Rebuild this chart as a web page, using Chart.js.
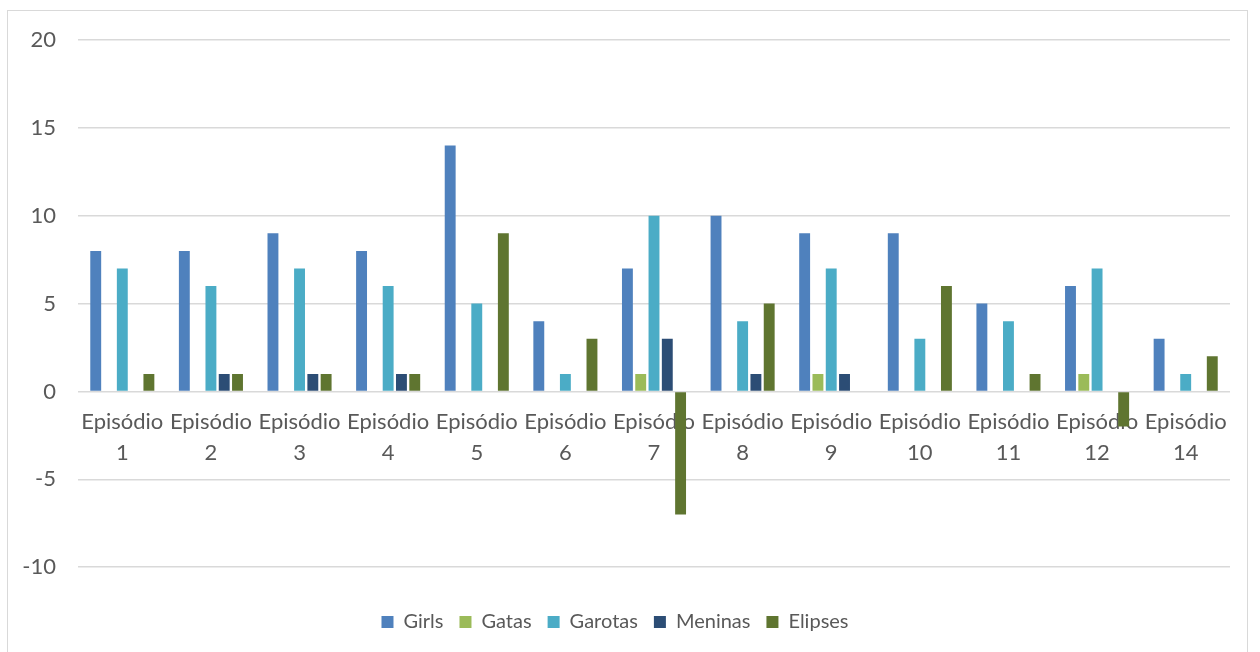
<!DOCTYPE html>
<html>
<head>
<meta charset="utf-8">
<script src="https://cdn.jsdelivr.net/npm/chart.js@4.4.1/dist/chart.umd.min.js"></script>
<style>
  html, body { margin: 0; padding: 0; background: #fff; overflow: hidden; }
  #frame { position: absolute; left: 7px; top: 10px; width: 1241px; height: 700px;
           border: 1.5px solid #d9d9d9; box-sizing: border-box; }
  #c { position: absolute; left: 0; top: 0; }
</style>
</head>
<body>
<div id="frame"></div>
<canvas id="c" width="1260" height="652"></canvas>
<script>
// Episodes on the category axis
const categories = [
  ['Episódio', '1'], ['Episódio', '2'], ['Episódio', '3'], ['Episódio', '4'],
  ['Episódio', '5'], ['Episódio', '6'], ['Episódio', '7'], ['Episódio', '8'],
  ['Episódio', '9'], ['Episódio', '10'], ['Episódio', '11'], ['Episódio', '12'],
  ['Episódio', '14']
];

// Counts per episode for each term
const girls   = [8, 8, 9, 8, 14, 4, 7, 10, 9, 9, 5, 6, 3];
const gatas   = [0, 0, 0, 0, 0, 0, 1, 0, 1, 0, 0, 1, 0];
const garotas = [7, 6, 7, 6, 5, 1, 10, 4, 7, 3, 4, 7, 1];
const meninas = [0, 1, 1, 1, 0, 0, 3, 1, 1, 0, 0, 0, 0];
const elipses = [1, 1, 1, 1, 9, 3, -7, 5, 0, 6, 1, -2, 2];

// Value axis range
const yMin = -10;
const yMax = 20;
const yStep = 5;

const FONT = 'Lato, "Open Sans", sans-serif';
const TEXT = '#595959';
const GRID = '#d9d9d9';

function series(label, data, color) {
  return {
    label, data,
    backgroundColor: color,
    borderWidth: 0,
    categoryPercentage: 0.75,
    barPercentage: 0.82
  };
}

new Chart(document.getElementById('c'), {
  type: 'bar',
  data: {
    labels: categories,
    datasets: [
      series('Girls',   girls,   '#4f81bd'),
      series('Gatas',   gatas,   '#9bbb59'),
      series('Garotas', garotas, '#4bacc6'),
      series('Meninas', meninas, '#2c4d75'),
      series('Elipses', elipses, '#5f7530')
    ]
  },
  options: {
    responsive: false,
    animation: false,
    layout: { padding: { top: 40, right: 30, left: 0, bottom: 10 } },
    plugins: {
      tooltip: { enabled: false },
      legend: {
        position: 'bottom',
        // empty title only adds breathing room above the legend row
        title: { display: true, text: ' ', font: { size: 4 }, padding: { top: 24, bottom: 0 } },
        labels: {
          boxWidth: 12, boxHeight: 12, padding: 16,
          color: TEXT,
          font: { family: FONT, size: 20 }
        }
      }
    },
    scales: {
      x: {
        position: { y: 0 },
        grid: { display: false },
        border: { display: false },
        ticks: {
          color: TEXT,
          font: { family: FONT, size: 22, lineHeight: 1.45 },
          padding: 6,
          autoSkip: false,
          maxRotation: 0,
          minRotation: 0
        }
      },
      y: {
        min: yMin, max: yMax,
        afterFit(scale) { scale.width = 78; },
        grid: { color: GRID, lineWidth: 1.5, drawTicks: false },
        border: { display: false },
        ticks: {
          stepSize: yStep,
          color: TEXT,
          padding: 22,
          font: { family: FONT, size: 22 }
        }
      }
    }
  }
});
</script>
</body>
</html>
